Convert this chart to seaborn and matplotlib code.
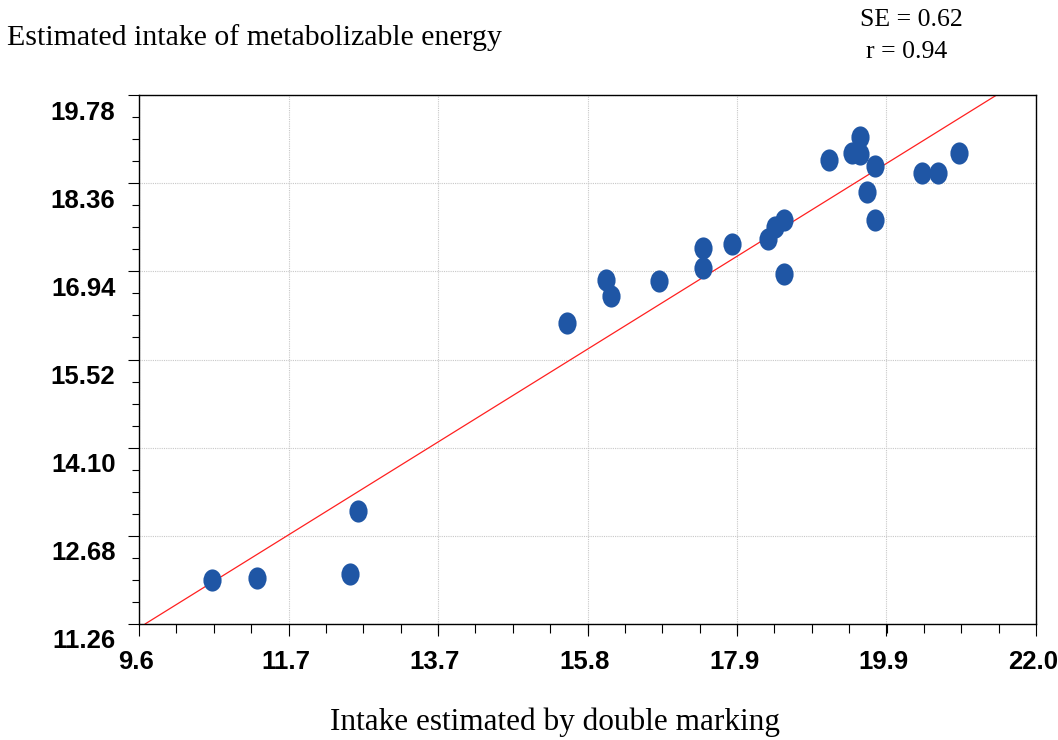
import numpy as np
import pandas as pd
import matplotlib
matplotlib.use("Agg")
import matplotlib.pyplot as plt
import seaborn as sns
from matplotlib.path import Path
from matplotlib.ticker import AutoMinorLocator, FixedLocator
from matplotlib.transforms import ScaledTranslation, Affine2D

# Datos
double_marking = [10.61, 11.23, 12.52, 12.63, 15.51, 16.05, 16.13, 16.79, 17.40, 17.40,
                  17.80, 18.29, 18.39, 18.52, 18.52, 19.14, 19.45, 19.57, 19.57, 19.77,
                  19.66, 19.77, 20.42, 20.65, 20.94]
metab_energy = [11.97, 12.00, 12.07, 13.08, 16.10, 16.80, 16.54, 16.78, 17.31, 16.99,
                17.38, 17.46, 17.66, 17.77, 16.90, 18.73, 18.84, 19.10, 18.83, 18.63,
                18.22, 17.77, 18.52, 18.52, 18.84]

x_ticks = [9.6, 11.667, 13.733, 15.8, 17.867, 19.933, 22.0]
x_tick_labels = ["9.6", "11.7", "13.7", "15.8", "17.9", "19.9", "22.0"]
y_ticks = [11.26, 12.68, 14.10, 15.52, 16.94, 18.36, 19.78]
y_tick_labels = ["11.26", "12.68", "14.10", "15.52", "16.94", "18.36", "19.78"]

fit_slope = 0.7237
fit_intercept = 4.252
fit_x = [9.683, 21.48]

se_text = "SE = 0.62"
r_text = "r = 0.94"

df = pd.DataFrame({"dm": double_marking, "me": metab_energy})
line_df = pd.DataFrame({"x": fit_x})
line_df["y"] = fit_intercept + fit_slope * line_df["x"]

sns.set_theme(style="white")
plt.rcParams["font.family"] = ["Liberation Sans", "DejaVu Sans"]
plt.rcParams["text.color"] = "black"
plt.rcParams["xtick.labelcolor"] = "black"
plt.rcParams["ytick.labelcolor"] = "black"

fig = plt.figure(figsize=(10.58, 7.40), dpi=100)
ax = fig.add_axes([139 / 1058, 1 - 624 / 740, 897 / 1058, 529 / 740])

# marcador elíptico
circle = Path.unit_circle()
ellipse = Affine2D().scale(0.82, 1.0).transform_path(circle)

ax.grid(True, which="major", color="#c8c8c8", linestyle=(0, (1, 1)), linewidth=0.8)
ax.set_axisbelow(True)

sns.lineplot(data=line_df, x="x", y="y", color="#ff2020", linewidth=0.9, ax=ax, zorder=2)
sns.scatterplot(data=df, x="dm", y="me", marker=ellipse, s=255, color="#1f56a5",
                linewidth=0, ax=ax, zorder=3)

ax.set_xlim(9.6, 22.0)
ax.set_ylim(11.26, 19.78)
ax.xaxis.set_major_locator(FixedLocator(x_ticks))
ax.yaxis.set_major_locator(FixedLocator(y_ticks))
ax.set_xticklabels(x_tick_labels)
ax.set_yticklabels(y_tick_labels)
ax.xaxis.set_minor_locator(AutoMinorLocator(4))
ax.yaxis.set_minor_locator(AutoMinorLocator(4))

ax.tick_params(axis="x", which="major", direction="out", length=8.6, width=0.8, color="black",
               pad=10, labelsize=18.5, bottom=True, labelcolor="black")
ax.tick_params(axis="x", which="minor", direction="out", length=6.5, width=0.8, color="black", bottom=True)
ax.tick_params(axis="y", which="major", direction="out", length=8, width=0.8, color="black",
               pad=9, labelsize=18.5, left=True, labelcolor="black")
ax.tick_params(axis="y", which="minor", direction="out", length=5, width=0.8, color="black", left=True)

for lab in ax.get_xticklabels():
    lab.set_fontweight("bold")
    lab.set_transform(lab.get_transform() + ScaledTranslation(-3 / 100, 0, fig.dpi_scale_trans))
for lab in ax.get_yticklabels():
    lab.set_fontweight("bold")
    lab.set_transform(lab.get_transform() + ScaledTranslation(0, -15 / 100, fig.dpi_scale_trans))

for sp in ax.spines.values():
    sp.set_visible(True)
    sp.set_color("black")
    sp.set_linewidth(1.0)

ax.set_xlabel("")
ax.set_ylabel("")

serif = ["Liberation Serif", "DejaVu Serif"]
fig.text(7 / 1058, 1 - 38 / 740, "Estimated intake of metabolizable energy",
         family=serif, fontsize=21.5, ha="left", va="center", color="black")
fig.text(555 / 1058, 1 - 722 / 740, "Intake estimated by double marking",
         family=serif, fontsize=22.5, ha="center", va="center", color="black")
fig.text(911 / 1058, 1 - 20 / 740, se_text, family=serif, fontsize=18.5, ha="center", va="center", color="black")
fig.text(907 / 1058, 1 - 52 / 740, r_text, family=serif, fontsize=18.5, ha="center", va="center", color="black")

fig.savefig("out.png", dpi=100)
